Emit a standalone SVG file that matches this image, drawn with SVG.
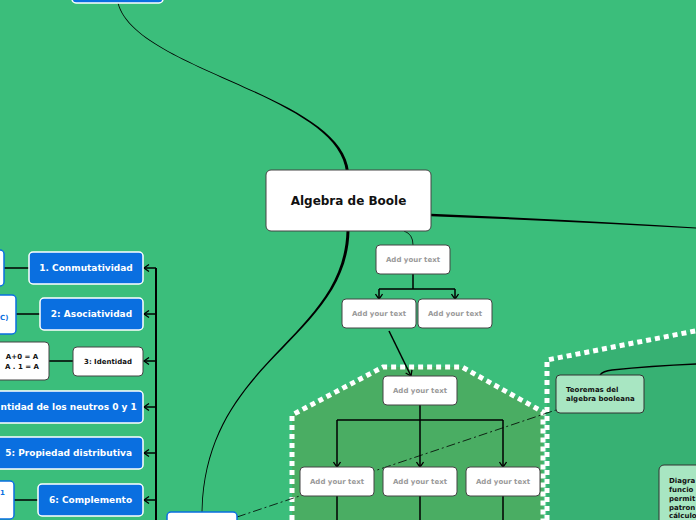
<svg xmlns="http://www.w3.org/2000/svg" width="696" height="520" viewBox="0 0 696 520">
<defs>
<marker id="arr" markerWidth="8" markerHeight="8" refX="6" refY="4" orient="auto" markerUnits="userSpaceOnUse">
<path d="M1,0.5 L6,4 L1,7.5" fill="none" stroke="#000" stroke-width="1.3"/>
</marker>
<style>
text{font-family:"DejaVu Sans","Liberation Sans",sans-serif;font-weight:bold}
.w{fill:#fff;stroke:#444;stroke-width:1}
.b{fill:#0a6fe0;stroke:#fff;stroke-width:1.5}
.wb{fill:#fff;stroke:#0a6fe0;stroke-width:1.5}
.g{fill:#a8e6c2;stroke:#333;stroke-width:1}
.add{font-size:7px;fill:#999;text-anchor:middle}
.bt{font-size:9px;fill:#fff;text-anchor:middle}
.be{font-size:9px;fill:#fff;text-anchor:end}
.k{font-size:7px;fill:#111}
.kc{font-size:7px;fill:#111;text-anchor:middle}
.bl{font-size:7px;fill:#0a6fe0}
.ln{fill:none;stroke:#000;stroke-width:1.5}
.dot{fill:none;stroke:#fff;stroke-width:5;stroke-dasharray:5 4}
</style>
</defs>
<rect width="696" height="520" fill="#3bbe7b"/>
<g id="regions">
<path d="M547,520 L547,360 L700,330 L700,520 Z" fill="#37b173"/>
<path d="M292,520 L292,415 L383,367 L462,367 L543,412 L543,520 Z" fill="#4aad63"/>
<path class="dot" d="M292,520 L292,415 L383,367 L462,367 L543,412 L543,520"/>
<path class="dot" d="M547,520 L547,360 L700,330"/>
</g>
<g id="connectors">
<path d="M117.6,3 C134.5,70 339,95 346,172 L349,172 C342,95 136,70 118.4,3 Z" fill="#000"/>
<path d="M346.5,231 C343.5,340 204.5,360 201.6,512 L202.4,512 C205.5,360 346.5,340 349.5,231 Z" fill="#000"/>
<path d="M431,213.8 Q560,219 696,227.4 L696,228.6 Q560,221 431,216.2 Z" fill="#000"/>
<path d="M404,231 Q413,234 413,245" fill="none" stroke="#000" stroke-width="0.8"/>
<path d="M600,375 Q603,371 612,370 Q650,366 696,364" fill="none" stroke="#000" stroke-width="1.3"/>
<path d="M237,517 L556,410" fill="none" stroke="#000" stroke-width="0.8" stroke-dasharray="9 3 2 3"/>
<path class="ln" d="M413,274 L413,289 M379,289 L455,289"/>
<path class="ln" d="M379,289 L379,299" marker-end="url(#arr)"/>
<path class="ln" d="M455,289 L455,299" marker-end="url(#arr)"/>
<path class="ln" d="M389,331 L411,376" marker-end="url(#arr)"/>
<path class="ln" d="M420,405 L420,467" marker-end="url(#arr)"/>
<path class="ln" d="M337,420 L503,420"/>
<path class="ln" d="M337,420 L337,467" marker-end="url(#arr)"/>
<path class="ln" d="M503,420 L503,467" marker-end="url(#arr)"/>
<path class="ln" d="M337,496 L337,520 M420,496 L420,520 M503,496 L503,520"/>
<path d="M156,268 L156,520" fill="none" stroke="#000" stroke-width="2"/>
<path class="ln" d="M156,268 L144,268" marker-end="url(#arr)"/>
<path class="ln" d="M156,314 L144,314" marker-end="url(#arr)"/>
<path class="ln" d="M156,361 L144,361" marker-end="url(#arr)"/>
<path class="ln" d="M156,407 L144,407" marker-end="url(#arr)"/>
<path class="ln" d="M156,453 L144,453" marker-end="url(#arr)"/>
<path class="ln" d="M156,500 L144,500" marker-end="url(#arr)"/>
<path class="ln" d="M4,268 L29,268 M16,314 L40,314 M49,361 L73,361 M14,500 L38,500"/>
</g>
<g id="n-top"><rect class="b" x="72" y="-30" width="91" height="33" rx="4"/></g>
<g id="n-central"><rect class="w" x="266" y="170" width="165" height="61" rx="5"/><text x="348.5" y="205" font-size="12" text-anchor="middle" fill="#111">Algebra de Boole</text></g>
<g id="n-add1"><rect class="w" x="376" y="245" width="74" height="29" rx="4"/><text class="add" x="413" y="262">Add your text</text></g>
<g id="n-add2"><rect class="w" x="342" y="299" width="74" height="29" rx="4"/><text class="add" x="379" y="316">Add your text</text></g>
<g id="n-add3"><rect class="w" x="418" y="299" width="74" height="29" rx="4"/><text class="add" x="455" y="316">Add your text</text></g>
<g id="n-add4"><rect class="w" x="383" y="376" width="74" height="29" rx="4"/><text class="add" x="420" y="393">Add your text</text></g>
<g id="n-add5"><rect class="w" x="300" y="467" width="74" height="29" rx="4"/><text class="add" x="337" y="484">Add your text</text></g>
<g id="n-add6"><rect class="w" x="383" y="467" width="74" height="29" rx="4"/><text class="add" x="420" y="484">Add your text</text></g>
<g id="n-add7"><rect class="w" x="466" y="467" width="74" height="29" rx="4"/><text class="add" x="503" y="484">Add your text</text></g>
<g id="n-teoremas"><rect class="g" x="556" y="375" width="88" height="38" rx="4"/><text class="k" x="566" y="392">Teoremas del</text><text class="k" x="566" y="401">algebra booleana</text></g>
<g id="n-diagrama"><rect class="g" x="659" y="465" width="70" height="80" rx="5"/>
<text class="k" x="669" y="483">Diagra</text><text class="k" x="669" y="492">funcio</text><text class="k" x="669" y="501">permit</text><text class="k" x="669" y="510">patron</text><text class="k" x="669" y="518">cálculo</text></g>
<g id="n-1"><rect class="b" x="29" y="252" width="114" height="32" rx="4"/><text class="bt" x="86" y="271">1. Conmutatividad</text></g>
<g id="n-2"><rect class="b" x="40" y="298" width="103" height="32" rx="4"/><text class="bt" x="91.5" y="317">2: Asociatividad</text></g>
<g id="n-3"><rect class="w" x="73" y="347" width="70" height="29" rx="4" stroke="#0a6fe0"/><text class="kc" x="108" y="364">3: Identidad</text></g>
<g id="n-4"><rect class="b" x="-60" y="391" width="203" height="32" rx="4"/><text x="0.5" y="410" font-size="9" fill="#fff">ntidad de los neutros 0 y 1</text></g>
<g id="n-5"><rect class="b" x="-4" y="437" width="147" height="32" rx="4"/><text class="be" x="132" y="456">5: Propiedad distributiva</text></g>
<g id="n-6"><rect class="b" x="38" y="484" width="105" height="32" rx="4"/><text class="bt" x="90.5" y="503">6: Complemento</text></g>
<g id="n-1a"><rect class="wb" x="-40" y="250" width="44" height="36" rx="4"/></g>
<g id="n-2a"><rect class="wb" x="-80" y="295" width="96" height="39" rx="4"/><text class="bl" x="0" y="320">C)</text></g>
<g id="n-3a"><rect class="w" x="-10" y="342" width="59" height="38" rx="4" stroke="#0a6fe0"/><text class="kc" x="22" y="359">A+0 = A</text><text class="kc" x="22" y="369">A . 1 = A</text></g>
<g id="n-6a"><rect class="wb" x="-60" y="481" width="74" height="38" rx="4"/><text class="bl" x="0" y="495">1</text></g>
<g id="n-bottom"><rect class="wb" x="167" y="512" width="70" height="30" rx="4"/></g>
</svg>
